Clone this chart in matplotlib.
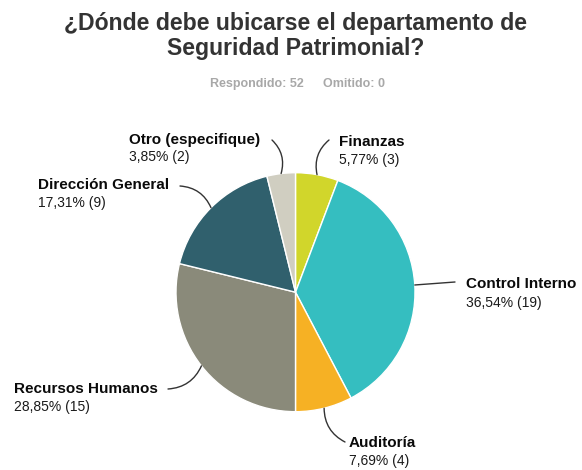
import matplotlib
matplotlib.use("Agg")
import matplotlib.pyplot as plt
import numpy as np
from matplotlib.patches import FancyArrowPatch

plt.rcParams['font.family'] = ['Liberation Sans', 'DejaVu Sans']

# datos de la encuesta
categorias = ['Finanzas', 'Control Interno', 'Auditoría', 'Recursos Humanos',
              'Dirección General', 'Otro (especifique)']
respuestas = [3, 19, 4, 15, 9, 2]
porcentajes = ['5,77%', '36,54%', '7,69%', '28,85%', '17,31%', '3,85%']
colores = ['#d1d62b', '#35bec0', '#f6b124', '#8a8a7a', '#30606d', '#d0cec1']
respondido = 52
omitido = 0

W, H = 582, 470
fig = plt.figure(figsize=(W / 100, H / 100), dpi=100)
ax = fig.add_axes([0, 0, 1, 1])

def Y(py):
    # coordenadas de pixel (desde arriba) -> datos
    return H - py

cx, cy, r = 295.5, 292.2, 119.5
wedges, _ = ax.pie(respuestas, colors=colores, startangle=90, counterclock=False,
                   center=(cx, Y(cy)), radius=r, frame=True,
                   wedgeprops=dict(edgecolor='white', linewidth=1))
ax.set_xlim(0, W)
ax.set_ylim(0, H)
ax.set_aspect('equal')
ax.axis('off')

# posicion de las etiquetas (izquierda, centro linea negrita, centro linea %)
pos_etiquetas = [(339, 142, 160), (466, 284, 303), (349, 443, 461),
                 (14, 389, 407), (38, 185, 203), (129, 140, 157)]
# extremo de la linea guia junto al texto y curvatura
fin_linea = [(329, 140), (455, 282), (345, 442), (168, 389), (180, 186), (272, 140)]
curvas = [-0.3, 0.0, 0.3, -0.3, 0.3, 0.3]

for w, cat, n, pct, (tx, ty1, ty2), (lx, ly), rad in zip(
        wedges, categorias, respuestas, porcentajes, pos_etiquetas, fin_linea, curvas):
    ang = np.deg2rad((w.theta1 + w.theta2) / 2)
    ex = cx + r * np.cos(ang)
    ey = Y(cy) + r * np.sin(ang)
    ax.add_patch(FancyArrowPatch((ex, ey), (lx, Y(ly)), arrowstyle='-',
                                 connectionstyle=f'arc3,rad={rad}',
                                 color='#333333', linewidth=1.0,
                                 shrinkA=0, shrinkB=0))
    ax.text(tx, Y(ty1), cat, fontsize=11, fontweight='bold', color='#0a0a0a',
            ha='left', va='center')
    ax.text(tx, Y(ty2), f'{pct} ({n})', fontsize=10, color='#1a1a1a',
            ha='left', va='center')

# titulo
ax.text(295.5, Y(30), '¿Dónde debe ubicarse el departamento de', fontsize=16.6,
        fontweight='bold', color='#333333', ha='center', va='baseline')
ax.text(295.5, Y(55), 'Seguridad Patrimonial?', fontsize=16.6,
        fontweight='bold', color='#333333', ha='center', va='baseline')
ax.text(304, Y(87), f'Respondido: {respondido}', fontsize=9, fontweight='bold',
        color='#a8a8a8', ha='right', va='baseline')
ax.text(323, Y(87), f'Omitido: {omitido}', fontsize=9, fontweight='bold',
        color='#a8a8a8', ha='left', va='baseline')

fig.savefig('out.png', dpi=100, facecolor='white')
